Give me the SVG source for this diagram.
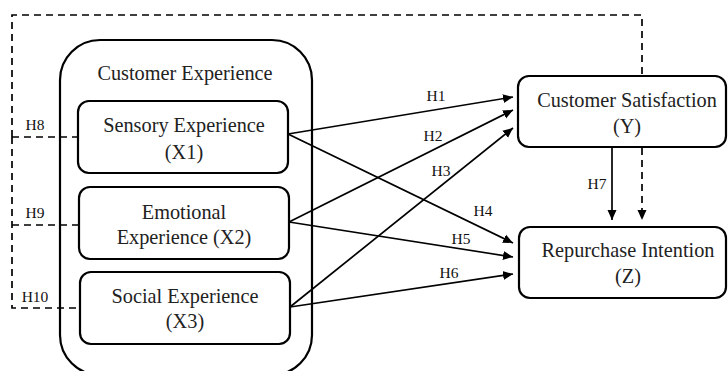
<svg xmlns="http://www.w3.org/2000/svg" width="728" height="371" viewBox="0 0 728 371">
<defs>
<style>
.box{fill:#fff;stroke:#000;stroke-width:2.2}
.t{font-family:"Liberation Serif","Times New Roman",serif;font-size:20.3px;fill:#222;text-anchor:middle}
.h{font-family:"Liberation Serif","Times New Roman",serif;font-size:15.5px;fill:#111;text-anchor:middle}
.ln{stroke:#000;stroke-width:1.7;fill:none}
.d{stroke:#000;stroke-width:1.7;fill:none;stroke-dasharray:7 5}
</style>
<marker id="ah" viewBox="0 0 10 10" refX="10" refY="5" markerWidth="10" markerHeight="10" markerUnits="userSpaceOnUse" orient="auto">
<path d="M0,0.5 L10,5 L0,9.5 z" fill="#000"/>
</marker>
</defs>
<rect width="728" height="371" fill="#fff"/>
<g id="container">
<rect class="box" x="60" y="40" width="252" height="335" rx="40"/>
<text class="t" x="185" y="80">Customer Experience</text>
</g>
<g id="connectors">
<path class="d" d="M12,137 L12,15 L642,15 L642,76"/>
<path class="d" d="M12,137 L78,137"/>
<path class="d" d="M12,137 L12,308 L80,308"/>
<path class="d" d="M12,225 L78,225"/>
<path class="d" d="M642,148 L642,220" marker-end="url(#ah)"/>
<line class="ln" x1="612" y1="148" x2="612" y2="220" marker-end="url(#ah)"/>
<line class="ln" x1="288" y1="134" x2="513" y2="97" marker-end="url(#ah)"/>
<line class="ln" x1="288" y1="134" x2="513" y2="243" marker-end="url(#ah)"/>
<line class="ln" x1="289" y1="222" x2="513" y2="110" marker-end="url(#ah)"/>
<line class="ln" x1="289" y1="222" x2="513" y2="257" marker-end="url(#ah)"/>
<line class="ln" x1="290" y1="307" x2="513" y2="128" marker-end="url(#ah)"/>
<line class="ln" x1="290" y1="307" x2="513" y2="274" marker-end="url(#ah)"/>
<text class="h" x="436" y="101">H1</text>
<text class="h" x="433" y="141">H2</text>
<text class="h" x="441" y="176">H3</text>
<text class="h" x="483" y="216">H4</text>
<text class="h" x="461" y="244">H5</text>
<text class="h" x="449" y="278">H6</text>
<text class="h" x="597" y="189">H7</text>
<text class="h" x="35" y="130">H8</text>
<text class="h" x="35" y="218">H9</text>
<text class="h" x="35" y="302">H10</text>
</g>
<g id="sensory">
<rect class="box" x="78" y="101" width="210" height="72" rx="11"/>
<text class="t" x="184" y="132">Sensory Experience</text>
<text class="t" x="184" y="159">(X1)</text>
</g>
<g id="emotional">
<rect class="box" x="79" y="187" width="210" height="72" rx="11"/>
<text class="t" x="184" y="219">Emotional</text>
<text class="t" x="184" y="244">Experience (X2)</text>
</g>
<g id="social">
<rect class="box" x="80" y="272" width="210" height="72" rx="11"/>
<text class="t" x="185" y="303">Social Experience</text>
<text class="t" x="185" y="328">(X3)</text>
</g>
<g id="satisfaction">
<rect class="box" x="518" y="76" width="208" height="71" rx="11"/>
<text class="t" x="627" y="107">Customer Satisfaction</text>
<text class="t" x="627" y="133">(Y)</text>
</g>
<g id="repurchase">
<rect class="box" x="519" y="227" width="207" height="71" rx="11"/>
<text class="t" x="628" y="257">Repurchase Intention</text>
<text class="t" x="628" y="283">(Z)</text>
</g>
</svg>
